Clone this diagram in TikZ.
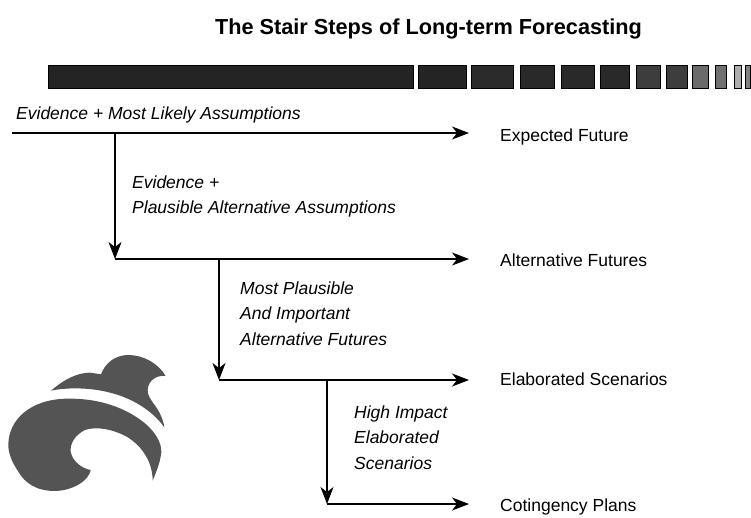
\documentclass[tikz,border=0pt]{standalone}
\usepackage{fontspec}
\setmainfont{Liberation Sans}
\usetikzlibrary{arrows.meta,positioning}
\definecolor{logogray}{gray}{0.33}
\tikzset{
    x=1pt,y=-1pt,
    flow/.style = {-{Stealth[length=17pt,width=13pt,inset=5pt]},line width=1.2pt,black},
    step label/.style = {anchor=west,inner sep=0pt,font=\fontsize{17.5}{17.5}\selectfont},
    cond label/.style = {anchor=north west,inner sep=0pt,align=left,font=\fontsize{17.5}{25.6}\selectfont\itshape},
    barbox/.style = {draw=black,line width=1pt,inner sep=0pt,minimum height=23pt}
}

\begin{document}
\begin{tikzpicture}
    \useasboundingbox (0,0) rectangle (751,517);

    \node[anchor=base,inner sep=0pt,font=\fontsize{21.7}{21.7}\selectfont\bfseries] (title) at (428.5,34) {The Stair Steps of Long-term Forecasting};

    % time bar, left edge / right edge / gray level
    \foreach \l/\r/\g [count=\i] in {48/413/14,418/466/14,470.5/513/17,520/554/16,561/594/16,599.5/629/16,636/660/24,666/687/24,692/708/42,715/726/44,734/741/68,745/750/50}
        \node[barbox,fill=black!\the\numexpr100-\g\relax,minimum width=\r pt-\l pt,anchor=west] (bar\i) at (\l,77) {};

    % steps
    \coordinate (start) at (12,133);
    \node[step label] (expected) at (500,137) {Expected Future};
    \node[step label] (alternative) at (500,260) {Alternative Futures};
    \node[step label] (elaborated) at (500,379) {Elaborated Scenarios};
    \node[step label] (contingency) at (500,507) {Cotingency Plans};

    \coordinate (j1) at (115,133);
    \coordinate (j2) at (115,259);
    \coordinate (j3) at (219,259);
    \coordinate (j4) at (219,380);
    \coordinate (j5) at (327,380);
    \coordinate (j6) at (327,504);
    \coordinate (end1) at (469,133);
    \coordinate (end2) at (469,259);
    \coordinate (end3) at (469,380);
    \coordinate (end4) at (469,504);

    \draw[flow] (start) -- (end1);
    \draw[flow] (j1) -- (j2);
    \draw[flow] (j2) -- (end2);
    \draw[flow] (j3) -- (j4);
    \draw[flow] (j4) -- (end3);
    \draw[flow] (j5) -- (j6);
    \draw[flow] (j6) -- (end4);

    \node[anchor=west,inner sep=0pt,font=\fontsize{17.5}{17.5}\selectfont\itshape] (cond1) at (16,115) {Evidence + Most Likely Assumptions};
    \node[cond label] (cond2) at (132,175.5) {Evidence +\\Plausible Alternative Assumptions};
    \node[cond label] (cond3) at (240,281.5) {Most Plausible\\And Important\\Alternative Futures};
    \node[cond label] (cond4) at (354,405.5) {High Impact\\Elaborated\\Scenarios};

    % logo
    \begin{scope}[shift={(0,340)},x=0.3333pt,y=-0.3333pt,fill=logogray]
        \fill (153,152) .. controls (190,120) and (230,98) .. (270,98) -- (303,103)
            .. controls (315,70) and (345,45) .. (385,45)
            .. controls (430,45) and (475,70) .. (497,108)
            .. controls (470,105) and (445,120) .. (443,150)
            .. controls (443,165) and (450,175) .. (460,190)
            .. controls (480,215) and (490,240) .. (493,262)
            .. controls (460,215) and (400,175) .. (330,158)
            .. controls (270,142) and (200,142) .. (153,152) -- cycle;
        \fill (25,315) .. controls (25,240) and (90,178) .. (200,176)
            .. controls (300,174) and (380,205) .. (435,250)
            .. controls (475,285) and (490,320) .. (482,350)
            .. controls (478,375) and (465,405) .. (458,422)
            .. controls (458,370) and (430,320) .. (380,290)
            .. controls (340,268) and (290,258) .. (255,270)
            .. controls (225,285) and (210,310) .. (212,335)
            .. controls (218,365) and (245,385) .. (272,390)
            .. controls (268,420) and (220,452) .. (165,453)
            .. controls (110,453) and (75,430) .. (55,395)
            .. controls (35,365) and (25,340) .. (25,315) -- cycle;
    \end{scope}
\end{tikzpicture}
\end{document}
